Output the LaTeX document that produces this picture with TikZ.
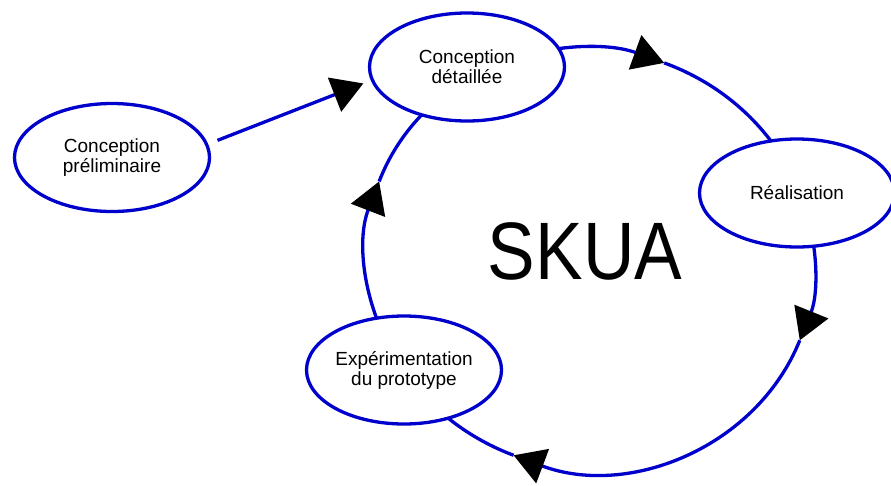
\documentclass[tikz,border=0pt]{standalone}
\usepackage{fontspec}
\usepackage{graphicx}
\setmainfont{Liberation Sans}
\usetikzlibrary{arrows.meta,shapes.geometric}
\definecolor{skblue}{RGB}{0,0,204}
\pgfdeclarelayer{background}
\pgfsetlayers{background,main}
\tikzset{
  phase/.style={ellipse, draw=skblue, line width=3.3pt, fill=white,
    minimum width=195pt, minimum height=108pt, inner sep=0pt,
    align=center, font=\fontsize{19}{20}\selectfont},
  ring/.style={draw=skblue, line width=3.3pt},
  tip/.style={-{Triangle[length=31pt,width=36pt,color=black]}},
}
\begin{document}
\begin{tikzpicture}[x=1pt,y=-1pt]
\useasboundingbox (0,0) rectangle (891,485);
\node[phase] (pre)  at (112,157.5) {Conception\\préliminaire};
\node[phase] (det)  at (467,67)    {Conception\\détaillée};
\node[phase] (real) at (797,193)   {Réalisation};
\node[phase] (exp)  at (404,370)   {Expérimentation\\du prototype};
\node[font=\fontsize{81.5}{81.5}\selectfont, inner sep=0pt] (skua) at (585,251) {\scalebox{0.875}[1]{SKUA}};
\draw[ring, tip, shorten <=10pt, shorten >=8pt] (pre.8) -- (det.188);
\begin{pgfonlayer}{background}
\fill[white] (0,0) rectangle (891,485);
\begin{scope}[shift={(590,259.5)}, rotate=-15]
  \path (-132:225 and 210) coordinate (rd)
        (-84.7:225 and 210) coordinate (ra1)
        (-35:225 and 210) coordinate (rr)
        (6.5:225 and 210) coordinate (ra2)
        (95.9:225 and 210) coordinate (ra3)
        (132:225 and 210) coordinate (re)
        (185.7:225 and 210) coordinate (ra4);
  \draw[ring, tip] (rd) arc[start angle=-132, end angle=-84.7, x radius=225, y radius=210];
  \draw[ring] (ra1) arc[start angle=-84.7, end angle=-35, x radius=225, y radius=210];
  \draw[ring, tip] (rr) arc[start angle=-35, end angle=6.5, x radius=225, y radius=210];
  \draw[ring, tip] (ra2) arc[start angle=6.5, end angle=95.9, x radius=225, y radius=210];
  \draw[ring] (ra3) arc[start angle=95.9, end angle=132, x radius=225, y radius=210];
  \draw[ring, tip] (re) arc[start angle=132, end angle=185.7, x radius=225, y radius=210];
  \draw[ring] (ra4) arc[start angle=185.7, end angle=228, x radius=225, y radius=210];
\end{scope}
\end{pgfonlayer}
\end{tikzpicture}
\end{document}
